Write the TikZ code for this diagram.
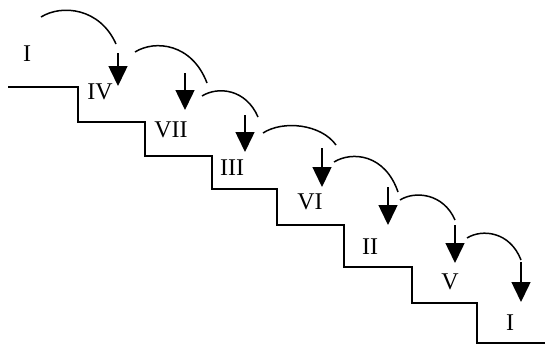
\documentclass[tikz,border=0pt]{standalone}
\usepackage{fontspec}
\setmainfont{Liberation Serif}
\usetikzlibrary{arrows.meta}
\begin{document}
\begin{tikzpicture}[x=1pt,y=-1pt,
  stairline/.style={line width=1.8pt,line join=miter},
  hop/.style={line width=1.5pt},
  drop/.style={line width=1.5pt,-{Triangle[length=20pt,width=19pt]}},
  numeral/.style={inner sep=0pt,font=\fontsize{24}{24}\selectfont}]
\useasboundingbox (0,0) rectangle (545,346);

% staircase
\draw[stairline] (8,87) -- (78,87) -- (78,122) -- (145,122) -- (145,156)
  -- (212,156) -- (212,189) -- (277,189) -- (277,225) -- (344,225)
  -- (344,267) -- (412,267) -- (412,303) -- (477,303) -- (477,343) -- (545,343);

% step labels
\node[numeral] (s1) at (27,54)  {I};
\node[numeral] (s2) at (100,92) {IV};
\node[numeral] (s3) at (171,130) {VII};
\node[numeral] (s4) at (232,168) {III};
\node[numeral] (s5) at (310,202) {VI};
\node[numeral] (s6) at (370,247) {II};
\node[numeral] (s7) at (450,282) {V};
\node[numeral] (s8) at (510,323) {I};

% arc ends and arrow ends
\coordinate (h1a) at (41,17);   \coordinate (h1b) at (116,44);
\coordinate (h2a) at (135,52);  \coordinate (h2b) at (207,83);
\coordinate (h3a) at (202,96);  \coordinate (h3b) at (258,117);
\coordinate (h4a) at (263,133); \coordinate (h4b) at (336,145);
\coordinate (h5a) at (334,162); \coordinate (h5b) at (398,192);
\coordinate (h6a) at (400,200); \coordinate (h6b) at (455,220);
\coordinate (h7a) at (467,238); \coordinate (h7b) at (521,260);

\coordinate (d1a) at (118,53);  \coordinate (d1b) at (118,86);
\coordinate (d2a) at (185,73);  \coordinate (d2b) at (185,110);
\coordinate (d3a) at (245,115); \coordinate (d3b) at (245,152);
\coordinate (d4a) at (322,148); \coordinate (d4b) at (322,187);
\coordinate (d5a) at (388,187); \coordinate (d5b) at (388,225);
\coordinate (d6a) at (455,225); \coordinate (d6b) at (455,263);
\coordinate (d7a) at (521,262); \coordinate (d7b) at (521,302);

% hops between steps
\draw[hop] (h1a) .. controls (62,4) and (100,8) .. (h1b);
\draw[hop] (h2a) .. controls (155,39.5) and (192,43.4) .. (h2b);
\draw[hop] (h3a) .. controls (218,86) and (246,89) .. (h3b);
\draw[hop] (h4a) .. controls (283,120) and (321,124) .. (h4b);
\draw[hop] (h5a) .. controls (352,151) and (385,154) .. (h5b);
\draw[hop] (h6a) .. controls (415,190.5) and (443.5,193.4) .. (h6b);
\draw[hop] (h7a) .. controls (482,228.6) and (510,231.5) .. (h7b);

% landing arrows
\draw[drop] (d1a) -- (d1b);
\draw[drop] (d2a) -- (d2b);
\draw[drop] (d3a) -- (d3b);
\draw[drop] (d4a) -- (d4b);
\draw[drop] (d5a) -- (d5b);
\draw[drop] (d6a) -- (d6b);
\draw[drop] (d7a) -- (d7b);
\end{tikzpicture}
\end{document}
